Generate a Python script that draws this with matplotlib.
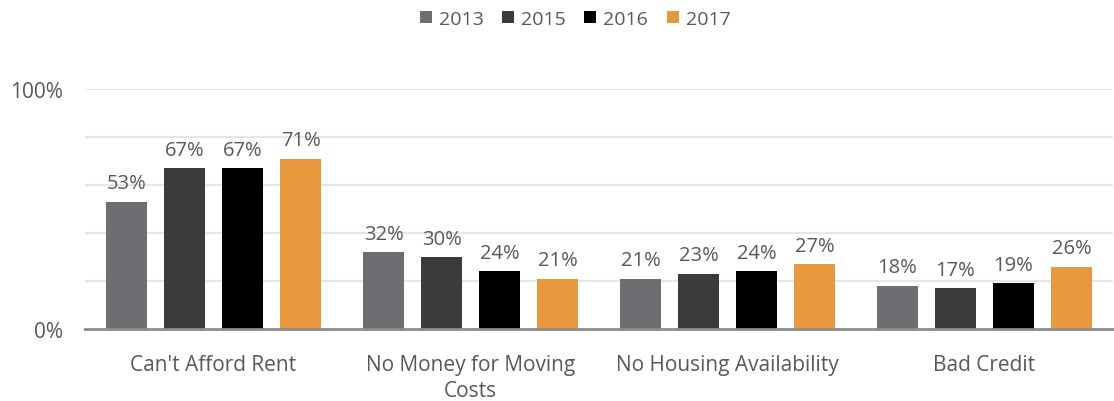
import numpy as np
import matplotlib.pyplot as plt

# survey results: barriers to finding housing, share of respondents
categories = ["Can't Afford Rent", "No Money for Moving\nCosts", "No Housing Availability", "Bad Credit"]
years = ['2013', '2015', '2016', '2017']
values = {
    '2013': [53, 32, 21, 18],
    '2015': [67, 30, 23, 17],
    '2016': [67, 24, 24, 19],
    '2017': [71, 21, 27, 26],
}
colors = ['#6D6E71', '#3B3B3B', '#000000', '#E8993E']

plt.rcParams['font.family'] = ['Open Sans', 'DejaVu Sans']
text_color = '#595959'

fig = plt.figure(figsize=(11.14, 4.02), dpi=100)
ax = fig.add_axes([85 / 1114, 72 / 402, 1028 / 1114, 240 / 402])

x = np.arange(len(categories))
step = 0.2257
width = 0.163

for i, year in enumerate(years):
    pos = x + (i - 1.5) * step
    bars = ax.bar(pos, values[year], width=width, color=colors[i], label=year, zorder=3)
    for bar, v in zip(bars, values[year]):
        ax.text(bar.get_x() + bar.get_width() / 2, v + 3.5, f'{v}%',
                ha='center', va='bottom', fontsize=14.5, color=text_color, zorder=4)

ax.set_xlim(-0.5, len(categories) - 0.5)
ax.set_ylim(0, 100)
ax.set_yticks([0, 100])
ax.set_yticklabels(['0%', '100%'])
for y in [20, 40, 60, 80, 100]:
    ax.axhline(y, color='#E6E6E6', linewidth=1.5, zorder=1)

ax.set_xticks(x)
ax.set_xticklabels(categories, fontsize=15, color=text_color, linespacing=1.3)
ax.tick_params(axis='x', length=0, pad=18)
ax.tick_params(axis='y', length=0, pad=16, labelsize=15, labelcolor=text_color)

for side in ['top', 'right', 'left']:
    ax.spines[side].set_visible(False)
ax.spines['bottom'].set_color('#8C8C8C')
ax.spines['bottom'].set_linewidth(2)
ax.spines['bottom'].set_zorder(5)

leg = fig.legend(loc='center', bbox_to_anchor=(575 / 1114, 1 - 20 / 402), ncol=4,
                 frameon=False, fontsize=14, handlelength=0.62, handleheight=0.62,
                 handletextpad=0.36, columnspacing=0.95)
for t in leg.get_texts():
    t.set_color(text_color)

fig.savefig('out.png', dpi=100)
